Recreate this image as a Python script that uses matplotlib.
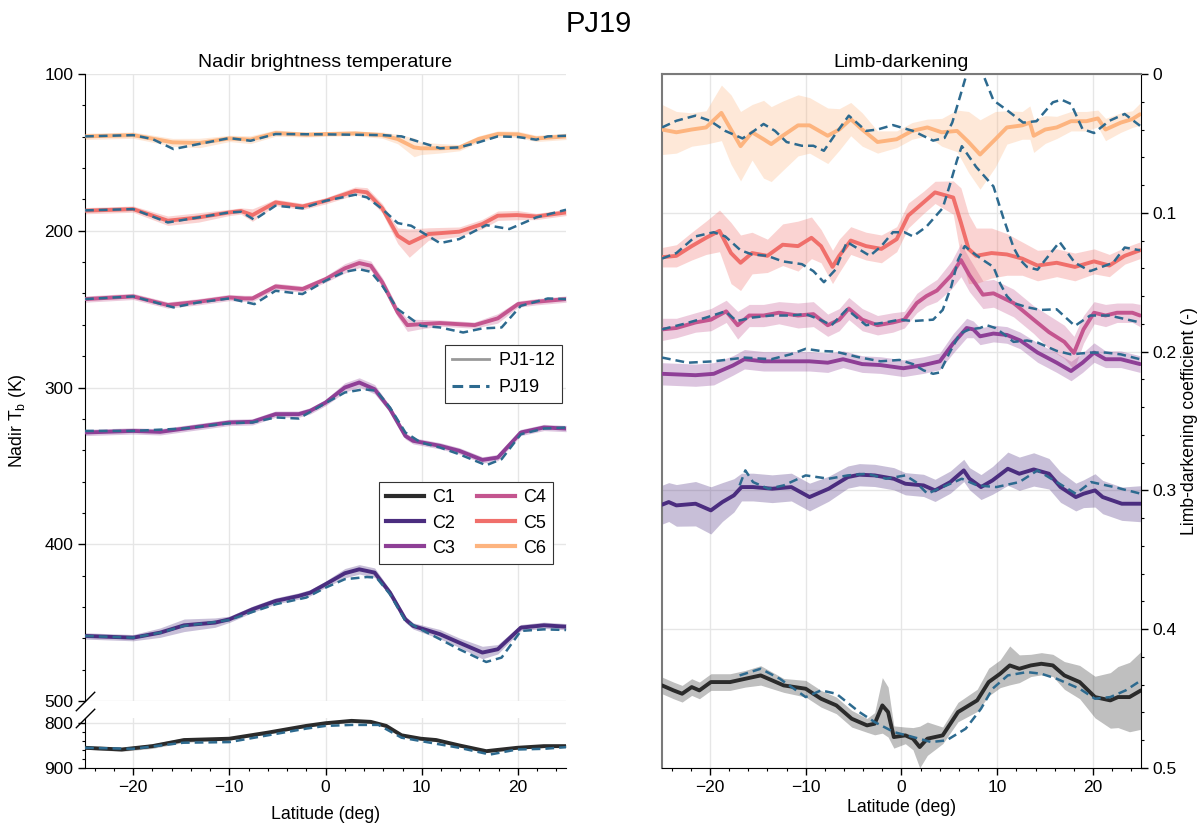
import numpy as np
import matplotlib
matplotlib.use('Agg')
import matplotlib.pyplot as plt
from matplotlib.lines import Line2D
from matplotlib.ticker import MultipleLocator, FuncFormatter

plt.rcParams['font.family'] = ['Liberation Sans', 'DejaVu Sans']
plt.rcParams['mathtext.fontset'] = 'custom'
plt.rcParams['mathtext.rm'] = 'Liberation Sans'
plt.rcParams['mathtext.it'] = 'Liberation Sans:italic'

########################################################################
#
# Nadir brightness temperature (K): PJ1-12 mean +- spread, and PJ19
#
########################################################################

tb_c6_lat = [-25, -20, -15.9, -13.1, -10, -7.8, -5.2, -2, 0, 3.1, 5.9, 7.5, 9.2, 9.9, 11.9, 13.9, 15.9, 17.9, 20, 21.9, 25]
tb_c6 = [139.8, 139.0, 143.6, 144.0, 141.1, 141.9, 137.7, 138.7, 138.3, 137.9, 139.0, 141.5, 146.8, 147.4, 147.4, 147.0, 141.5, 138.3, 138.5, 141.1, 139.8]
tb_c6_err = [2, 2, 2.5, 3, 2, 2.5, 2, 1.5, 1.5, 1.5, 2, 3, 6, 4, 3, 2, 2, 2, 2, 2, 2]
tb19_c6_lat = [-25, -20, -18, -15.8, -13.2, -10, -7.8, -5.2, 0, 5.9, 7.9, 9.9, 11.9, 13.9, 15.9, 17.9, 20, 21.9, 23.1, 25]
tb19_c6 = [139.8, 139.0, 141.5, 147.9, 144.7, 140.9, 142.6, 138.3, 138.5, 139.0, 139.8, 143.6, 147.4, 146.8, 143.6, 139.8, 140.2, 141.9, 139.8, 139.4]

tb_c5_lat = [-25, -20, -16.4, -13.2, -10, -8.8, -7.6, -5.2, -2.4, 0, 3.1, 4.3, 5.9, 7.5, 8.7, 10.7, 13.9, 16.3, 17.9, 19.9, 21.9, 25]
tb_c5 = [187.2, 186.2, 193.6, 191.5, 188.3, 187.4, 190.0, 181.9, 184.5, 180.9, 174.5, 175.5, 185.7, 203.2, 207.9, 202.1, 200.6, 195.7, 190.4, 190.0, 190.9, 188.3]
tb_c5_err = [2, 2, 3, 3, 2, 2, 4, 2, 2, 2, 2.5, 3, 3, 5, 9, 4, 3, 3, 3, 3, 2, 2]
tb19_c5_lat = [-25, -20, -16.4, -13.2, -10, -8.8, -7.4, -5.2, -2.4, 0, 3.1, 4.3, 5.9, 7.5, 8.9, 11.9, 13.9, 16.7, 19.1, 21.9, 25]
tb19_c5 = [187.0, 186.2, 194.7, 191.5, 188.3, 187.9, 193.0, 184.0, 185.7, 180.9, 177.0, 178.7, 186.2, 195.1, 196.8, 207.9, 205.3, 196.4, 198.9, 191.5, 186.6]

tb_c4_lat = [-25, -20, -16.4, -13.2, -10, -8.4, -7.6, -5.2, -2.4, 0, 2, 3.5, 4.7, 5.9, 7.5, 8.5, 9.9, 11.9, 15.5, 17.9, 20, 21.9, 25]
tb_c4 = [243.6, 241.9, 247.4, 245.3, 242.6, 243.2, 243.2, 235.5, 237.2, 230.9, 224.0, 220.6, 222.3, 232.9, 252.1, 260.2, 259.6, 258.9, 260.2, 255.9, 246.8, 245.3, 243.6]
tb_c4_err = [2, 2, 2, 2, 2, 2, 2, 2, 2, 2, 3, 3, 3, 3, 3, 4, 3, 2, 2, 3, 2, 2, 2]
tb19_c4_lat = [-25, -20, -15.8, -13.2, -10, -7.4, -5.2, -2.4, 0, 2, 3.5, 4.7, 5.9, 7.5, 9.9, 11.9, 14.3, 16.3, 18.3, 20.3, 23.1, 25]
tb19_c4 = [243.6, 241.9, 248.9, 245.7, 243.2, 246.8, 238.3, 240.4, 231.9, 226.2, 224.5, 226.2, 235.1, 250.0, 260.6, 261.7, 264.9, 262.3, 261.7, 247.9, 243.2, 243.6]

tb_c3_lat = [-25, -20, -17.2, -14.7, -10, -7.6, -5.2, -2.8, -1.6, 0, 2, 3.5, 5.1, 6.7, 8.3, 9.1, 11.9, 13.9, 16.3, 17.9, 20.3, 22.7, 25]
tb_c3 = [328.7, 327.7, 328.3, 326.2, 322.3, 321.9, 317.0, 317.0, 314.9, 309.6, 300.0, 296.8, 301.1, 313.8, 330.9, 334.0, 337.2, 340.4, 346.2, 344.7, 328.7, 325.5, 326.2]
tb_c3_err = [2, 2, 2, 2, 2, 2, 2, 2, 2, 2, 3, 3, 3, 2, 2, 2, 2, 2, 2, 2, 2, 2, 2]
tb19_c3_lat = [-25, -20, -14.8, -10, -7.6, -5.2, -2.8, 0, 2, 4, 5.3, 6.7, 8.3, 9.9, 11.9, 13.9, 16.7, 18.3, 20.3, 22.7, 25]
tb19_c3 = [327.7, 327.7, 326.2, 322.8, 322.3, 319.1, 319.8, 310.0, 303.2, 301.1, 302.1, 312.8, 328.7, 335.1, 338.3, 342.6, 349.6, 345.7, 329.8, 326.2, 325.5]

tb_c2_lat = [-25, -20, -17.2, -14.7, -11.5, -10, -7.6, -5.2, -2.8, -1.6, 0, 2, 3.5, 5.1, 6.7, 8.3, 9.1, 11.9, 13.9, 16.3, 17.9, 20.3, 22.7, 25]
tb_c2 = [458.5, 459.6, 456.4, 451.7, 450.0, 447.9, 441.5, 436.2, 433.0, 430.9, 425.5, 418.5, 416.0, 418.1, 430.9, 447.9, 452.1, 457.4, 462.8, 469.1, 467.0, 453.2, 451.7, 452.6]
tb_c2_err = [2, 2, 3, 4, 3, 2, 2, 2, 2, 2, 2, 3, 3, 3, 2, 2, 2, 3, 3, 4, 3, 2, 2, 2]
tb19_c2_lat = [-25, -20, -17.2, -14.7, -11.5, -10, -7.6, -5.2, -2, 0, 2, 4.3, 5.3, 6.7, 8.3, 9.9, 11.9, 13.9, 16.7, 18.3, 20.3, 22.7, 25]
tb19_c2 = [458.5, 459.6, 456.4, 452.1, 449.6, 448.3, 443.2, 438.3, 434.0, 427.7, 422.3, 420.9, 421.3, 431.9, 448.9, 454.3, 460.6, 467.0, 475.1, 472.3, 455.3, 454.3, 454.7]

tb_c1_lat = [-25, -21.2, -18, -14.7, -10, -6, -2, 0, 2.7, 4.7, 6.3, 7.9, 9.9, 11.5, 13.9, 16.7, 19.9, 22.7, 25]
tb_c1 = [855.6, 859.3, 851.9, 838.5, 835.6, 822.2, 807.4, 801.5, 796.3, 798.5, 807.4, 828.1, 835.6, 838.5, 850.4, 863.0, 855.6, 851.9, 851.9]
tb_c1_err = [3, 4, 5, 5, 3, 3, 3, 3, 3, 3, 3, 3, 3, 3, 3, 3, 3, 3, 3]
tb19_c1_lat = [-25, -20, -14.8, -10, -6, -2, 0, 2.7, 5.5, 7.9, 9.9, 13.9, 17.1, 19.9, 22.7, 25]
tb19_c1 = [855.6, 857.8, 844.4, 843.0, 828.1, 813.3, 807.4, 805.2, 805.2, 833.3, 840.7, 855.6, 870.4, 859.3, 857.8, 854.1]

########################################################################
#
# Limb-darkening coefficient (-): PJ1-12 mean +- spread, and PJ19
#
########################################################################

ld_c6_lat = [-25.0, -23.5, -21.9, -20.4, -18.8, -17.8, -16.8, -15.6, -14.4, -13.6, -12.4, -10.8, -9.6, -7.7, -6.5, -5.3, -4.1, -2.5, -0.5, 1.1,
             2.7, 4.2, 5.8, 7.0, 8.2, 9.8, 11.0, 12.6, 13.4, 13.8, 15.0, 16.2, 17.7, 19.3, 20.5, 21.3, 22.9, 24.1, 24.9]
ld_c6 = [0.040, 0.042, 0.040, 0.0385, 0.028, 0.040, 0.052, 0.042, 0.047, 0.0505, 0.0445, 0.037, 0.037, 0.0445, 0.040, 0.0325, 0.040, 0.049, 0.047, 0.041,
         0.0385, 0.042, 0.041, 0.049, 0.058, 0.047, 0.0385, 0.037, 0.035, 0.0445, 0.040, 0.0385, 0.034, 0.034, 0.032, 0.040, 0.035, 0.0325, 0.029]
ld_c6_err = [0.018, 0.015, 0.012, 0.012, 0.02, 0.025, 0.025, 0.02, 0.028, 0.027, 0.025, 0.022, 0.02, 0.02, 0.015, 0.012, 0.012, 0.008, 0.006, 0.006,
             0.006, 0.01, 0.015, 0.022, 0.025, 0.02, 0.012, 0.01, 0.012, 0.012, 0.01, 0.008, 0.007, 0.007, 0.006, 0.008, 0.007, 0.006, 0.008]
ld19_c6_lat = [-25.0, -23.5, -21.5, -20.0, -18.4, -16.6, -15.6, -14.4, -13.2, -12.0, -10.4, -9.2, -8.1, -6.9, -5.5, -3.7, -2.5, -0.9, 1.2, 3.3,
               4.5, 5.3, 6.1, 6.8, 7.6, 8.5, 9.6, 11.0, 12.7, 14.1, 14.6, 15.8, 16.7, 17.7, 18.9, 20.1, 21.7, 23.3, 24.9]
ld19_c6 = [0.0385, 0.0337, 0.030, 0.0337, 0.041, 0.0464, 0.042, 0.036, 0.041, 0.049, 0.0517, 0.0517, 0.0553, 0.0433, 0.030, 0.041, 0.040, 0.0368, 0.041, 0.048,
           0.046, 0.035, 0.0165, 0.0, -0.012, 0.0, 0.019, 0.026, 0.035, 0.034, 0.030, 0.0204, 0.0185, 0.0216, 0.0397, 0.0425, 0.0337, 0.0288, 0.0373]

ld_c5_lat = [-25.0, -23.5, -21.9, -20.4, -19.0, -17.8, -16.8, -15.6, -14.0, -12.4, -10.8, -9.4, -8.4, -7.2, -6.5, -5.3, -3.7, -2.1, -0.5, 0.7,
             2.3, 3.5, 5.4, 6.2, 7.0, 7.8, 9.4, 11.0, 12.6, 14.2, 16.2, 18.1, 20.1, 21.7, 23.3, 24.9]
ld_c5 = [0.132, 0.131, 0.124, 0.118, 0.113, 0.129, 0.136, 0.129, 0.131, 0.123, 0.124, 0.118, 0.124, 0.139, 0.131, 0.120, 0.124, 0.126, 0.119, 0.102,
         0.0925, 0.0853, 0.089, 0.107, 0.126, 0.131, 0.129, 0.130, 0.133, 0.138, 0.136, 0.139, 0.135, 0.138, 0.131, 0.127]
ld_c5_err = [0.007, 0.008, 0.010, 0.012, 0.015, 0.022, 0.020, 0.015, 0.012, 0.015, 0.018, 0.015, 0.012, 0.012, 0.012, 0.010, 0.010, 0.010, 0.009, 0.009,
             0.008, 0.008, 0.012, 0.025, 0.025, 0.020, 0.018, 0.015, 0.012, 0.011, 0.010, 0.010, 0.009, 0.008, 0.006, 0.006]
ld19_c5_lat = [-25.0, -23.5, -21.5, -19.6, -18.4, -16.8, -15.6, -14.0, -12.4, -10.4, -9.2, -8.1, -6.9, -5.7, -4.5, -3.3, -2.1, -0.9, 0.3, 1.2,
               2.6, 4.3, 5.0, 5.8, 6.3, 7.8, 9.6, 10.6, 11.7, 12.4, 13.1, 14.2, 16.5, 18.1, 19.7, 22.1, 23.3, 24.9]
ld19_c5 = [0.133, 0.129, 0.117, 0.114, 0.117, 0.127, 0.130, 0.131, 0.135, 0.137, 0.142, 0.150, 0.141, 0.121, 0.126, 0.131, 0.124, 0.114, 0.114, 0.117,
           0.110, 0.0966, 0.081, 0.062, 0.052, 0.067, 0.081, 0.103, 0.125, 0.134, 0.139, 0.141, 0.121, 0.136, 0.142, 0.136, 0.125, 0.127]

ld_c4_lat = [-25.0, -23.5, -21.5, -19.9, -18.3, -17.1, -15.9, -14.4, -12.8, -10.8, -9.2, -7.7, -6.5, -5.5, -4.1, -2.5, -0.9, 0.3, 1.6, 2.6,
             3.7, 5.2, 6.2, 7.1, 8.5, 9.6, 11.7, 13.8, 15.4, 17.0, 18.0, 19.0, 20.1, 21.3, 22.5, 24.1, 24.9]
ld_c4 = [0.184, 0.183, 0.179, 0.177, 0.171, 0.181, 0.174, 0.174, 0.172, 0.174, 0.173, 0.181, 0.177, 0.169, 0.177, 0.181, 0.179, 0.177, 0.165, 0.160,
         0.156, 0.145, 0.134, 0.145, 0.159, 0.158, 0.165, 0.177, 0.186, 0.193, 0.201, 0.184, 0.172, 0.174, 0.172, 0.172, 0.174]
ld_c4_err = [0.008, 0.007, 0.007, 0.008, 0.008, 0.01, 0.008, 0.008, 0.008, 0.009, 0.009, 0.008, 0.008, 0.008, 0.008, 0.007, 0.007, 0.006, 0.007, 0.007,
             0.008, 0.01, 0.012, 0.012, 0.01, 0.01, 0.01, 0.01, 0.012, 0.012, 0.012, 0.01, 0.008, 0.008, 0.007, 0.007, 0.008]
ld19_c4_lat = [-25.0, -22.7, -20.4, -18.4, -17.2, -15.6, -13.6, -11.6, -10.0, -8.5, -7.3, -5.7, -3.7, -1.7, -0.2, 1.2, 3.3, 4.3, 5.2, 5.9,
               6.6, 7.5, 8.5, 9.6, 10.3, 11.0, 11.7, 13.1, 14.5, 16.2, 18.1, 19.7, 21.7, 24.9]
ld19_c4 = [0.184, 0.180, 0.1755, 0.171, 0.178, 0.1755, 0.174, 0.174, 0.173, 0.177, 0.181, 0.1695, 0.181, 0.179, 0.177, 0.178, 0.177, 0.170, 0.153, 0.134,
           0.124, 0.129, 0.134, 0.139, 0.151, 0.160, 0.165, 0.168, 0.170, 0.1695, 0.1815, 0.174, 0.174, 0.179]

ld_c3_lat = [-25.0, -21.5, -19.6, -17.6, -16.4, -14.4, -12.4, -9.6, -7.7, -6.1, -4.1, -2.2, 0.2, 2.3, 4.0, 5.4, 6.8, 7.5, 8.2, 9.6,
             11.0, 12.4, 14.2, 16.2, 17.7, 18.9, 20.1, 21.3, 22.9, 24.9]
ld_c3 = [0.216, 0.217, 0.216, 0.210, 0.2055, 0.207, 0.207, 0.207, 0.208, 0.2055, 0.209, 0.2097, 0.212, 0.2097, 0.207, 0.194, 0.183, 0.184, 0.189, 0.187,
         0.188, 0.192, 0.2007, 0.208, 0.214, 0.208, 0.2007, 0.2055, 0.2055, 0.209]
ld_c3_err = [0.008, 0.008, 0.008, 0.007, 0.007, 0.007, 0.007, 0.007, 0.007, 0.006, 0.006, 0.006, 0.006, 0.006, 0.006, 0.007, 0.007, 0.006, 0.006, 0.006,
             0.006, 0.006, 0.007, 0.007, 0.007, 0.007, 0.007, 0.006, 0.006, 0.006]
ld19_c3_lat = [-25.0, -22.3, -19.6, -16.4, -13.6, -11.6, -10.0, -8.5, -6.9, -4.5, -2.2, -0.2, 1.2, 2.3, 3.3, 4.0, 5.0, 6.1, 7.1, 8.2,
               8.9, 9.8, 10.6, 11.7, 13.1, 14.2, 16.2, 17.7, 19.7, 21.3, 22.9, 24.9]
ld19_c3 = [0.2043, 0.208, 0.207, 0.2043, 0.2055, 0.202, 0.198, 0.1995, 0.200, 0.204, 0.207, 0.206, 0.209, 0.2135, 0.216, 0.215, 0.201, 0.187, 0.184, 0.183,
           0.181, 0.183, 0.187, 0.193, 0.192, 0.1935, 0.1995, 0.202, 0.2007, 0.2007, 0.202, 0.2055]

ld_c2_lat = [-25.0, -24.3, -23.5, -21.5, -19.9, -18.7, -17.5, -16.7, -15.5, -13.5, -11.5, -9.6, -7.6, -5.6, -4.4, -2.8, -0.8, 0.4, 2.3, 3.5,
             5.1, 6.5, 7.1, 8.3, 9.5, 11.1, 12.3, 13.8, 15.4, 16.6, 18.2, 19.0, 20.2, 21.0, 23.0, 25.0]
ld_c2 = [0.3103, 0.3084, 0.3108, 0.3096, 0.3144, 0.3084, 0.3036, 0.2976, 0.2976, 0.2988, 0.2976, 0.3048, 0.2988, 0.2904, 0.2887, 0.2892, 0.2916, 0.2952, 0.2964, 0.3,
         0.294, 0.2856, 0.2916, 0.2976, 0.2928, 0.2844, 0.288, 0.2849, 0.288, 0.2976, 0.3048, 0.3024, 0.3, 0.3048, 0.3096, 0.3096]
ld_c2_err = [0.014, 0.014, 0.015, 0.016, 0.017, 0.014, 0.012, 0.01, 0.01, 0.01, 0.01, 0.01, 0.009, 0.008, 0.008, 0.008, 0.008, 0.008, 0.008, 0.008,
             0.008, 0.008, 0.008, 0.009, 0.01, 0.012, 0.012, 0.012, 0.011, 0.011, 0.01, 0.01, 0.012, 0.012, 0.012, 0.013]
ld19_c2_lat = [-16.9, -16.3, -15.5, -13.9, -12.3, -10.0, -7.6, -5.6, -3.6, -1.6, 0.4, 1.5, 2.7, 4.3, 6.3, 7.9, 9.9, 12.3, 14.2, 16.2,
               18.2, 19.8, 22.2, 25.0]
ld19_c2 = [0.2964, 0.2856, 0.294, 0.2988, 0.2964, 0.2892, 0.2916, 0.2892, 0.288, 0.2916, 0.2892, 0.294, 0.3024, 0.2976, 0.2916, 0.2964, 0.2976, 0.294, 0.2856, 0.294,
           0.3024, 0.294, 0.2976, 0.3024]

ld_c1_lat = [-25.0, -23.8, -22.9, -21.9, -21.1, -19.9, -17.9, -16.3, -14.7, -13.5, -12.3, -10.0, -8.4, -6.8, -5.2, -3.6, -2.8, -2.0, -1.4, -0.8,
             0.4, 1.2, 1.9, 2.7, 4.3, 5.9, 7.9, 9.1, 10.3, 11.3, 12.3, 13.5, 14.6, 15.8, 17.0, 18.6, 20.2, 21.8, 22.6, 23.8, 25.0]
ld_c1 = [0.4405, 0.4441, 0.4465, 0.4417, 0.4441, 0.4381, 0.4381, 0.4357, 0.4333, 0.4369, 0.4405, 0.4429, 0.4501, 0.4549, 0.4645, 0.4693, 0.4681, 0.4549, 0.4597, 0.4777,
         0.4765, 0.4789, 0.4849, 0.4789, 0.4765, 0.4597, 0.4513, 0.4381, 0.4321, 0.4261, 0.4285, 0.4261, 0.4249, 0.4261, 0.4333, 0.4381, 0.4489, 0.4513, 0.4489, 0.4489, 0.4441]
ld_c1_err = [0.006, 0.006, 0.006, 0.006, 0.006, 0.006, 0.006, 0.006, 0.007, 0.006, 0.005, 0.006, 0.006, 0.006, 0.006, 0.005, 0.008, 0.02, 0.018, 0.008,
             0.006, 0.008, 0.015, 0.012, 0.006, 0.007, 0.008, 0.01, 0.01, 0.014, 0.01, 0.008, 0.008, 0.008, 0.01, 0.012, 0.015, 0.02, 0.022, 0.025, 0.028]
ld19_c1_lat = [-16.9, -14.7, -12.7, -10.0, -8.4, -6.8, -4.4, -2.8, -0.8, 1.2, 3.1, 4.7, 6.7, 8.3, 9.5, 11.1, 13.1, 14.6, 16.2, 18.6,
               20.2, 21.8, 23.4, 25.0]
ld19_c1 = [0.4333, 0.4285, 0.4357, 0.4489, 0.4441, 0.4465, 0.4597, 0.4669, 0.4741, 0.4777, 0.4813, 0.4801, 0.4717, 0.4573, 0.4429, 0.4333, 0.4309, 0.4321, 0.4357, 0.4429,
           0.4501, 0.4489, 0.4441, 0.4369]

channels = ['C1', 'C2', 'C3', 'C4', 'C5', 'C6']
channel_colors = ['#2b2b2b', '#4b2d7f', '#8e3f96', '#c4558f', '#f06f6b', '#fdb47f']
pj19_color = '#2d6a8f'

tb_mean = [(tb_c1_lat, tb_c1, tb_c1_err), (tb_c2_lat, tb_c2, tb_c2_err), (tb_c3_lat, tb_c3, tb_c3_err),
           (tb_c4_lat, tb_c4, tb_c4_err), (tb_c5_lat, tb_c5, tb_c5_err), (tb_c6_lat, tb_c6, tb_c6_err)]
tb_pj19 = [(tb19_c1_lat, tb19_c1), (tb19_c2_lat, tb19_c2), (tb19_c3_lat, tb19_c3),
           (tb19_c4_lat, tb19_c4), (tb19_c5_lat, tb19_c5), (tb19_c6_lat, tb19_c6)]
ld_mean = [(ld_c1_lat, ld_c1, ld_c1_err), (ld_c2_lat, ld_c2, ld_c2_err), (ld_c3_lat, ld_c3, ld_c3_err),
           (ld_c4_lat, ld_c4, ld_c4_err), (ld_c5_lat, ld_c5, ld_c5_err), (ld_c6_lat, ld_c6, ld_c6_err)]
ld_pj19 = [(ld19_c1_lat, ld19_c1), (ld19_c2_lat, ld19_c2), (ld19_c3_lat, ld19_c3),
           (ld19_c4_lat, ld19_c4), (ld19_c5_lat, ld19_c5), (ld19_c6_lat, ld19_c6)]


def draw_channel(ax, mean, pj19, color):
    lat, val, err = (np.asarray(a, dtype=float) for a in mean)
    ax.fill_between(lat, val - err, val + err, color=color, alpha=0.3, lw=0, zorder=2)
    ax.plot(lat, val, color=color, lw=2.8, zorder=3,
            solid_capstyle='round', solid_joinstyle='round')
    ax.plot(pj19[0], pj19[1], color=pj19_color, lw=1.8, dashes=(3.5, 2.0),
            dash_joinstyle='round', zorder=4)


def style_axis(ax):
    ax.set_xlim(-25, 25)
    ax.xaxis.set_major_locator(MultipleLocator(10))
    ax.xaxis.set_minor_locator(MultipleLocator(2))
    ax.grid(True, which='major', color='#e6e6e6', lw=1.0, zorder=0)
    ax.tick_params(which='major', direction='out', length=5, width=1, labelsize=12.5)
    ax.tick_params(which='minor', direction='out', length=2.5, width=0.8)
    ax.set_axisbelow(True)


fig = plt.figure(figsize=(11.98, 8.25), dpi=100)

# left: broken y axis for the nadir brightness temperature
ax_top = fig.add_axes([0.0710, 0.1503, 0.4015, 0.7600])
ax_bot = fig.add_axes([0.0710, 0.0691, 0.4015, 0.0606])
# right: limb-darkening coefficient
ax_ld = fig.add_axes([0.5526, 0.0691, 0.3998, 0.8412])

for i in range(6):
    target = ax_bot if i == 0 else ax_top
    draw_channel(target, tb_mean[i], tb_pj19[i], channel_colors[i])
    draw_channel(ax_ld, ld_mean[i], ld_pj19[i], channel_colors[i])

for ax in (ax_top, ax_bot, ax_ld):
    style_axis(ax)

ax_top.set_ylim(500, 100)
ax_top.yaxis.set_major_locator(MultipleLocator(100))
ax_top.yaxis.set_minor_locator(MultipleLocator(20))
ax_top.tick_params(axis='x', which='both', bottom=False, labelbottom=False)
ax_top.spines[['top', 'right', 'bottom']].set_visible(False)
ax_top.set_title('Nadir brightness temperature', fontsize=14, pad=5)

ax_bot.set_ylim(900, 790)
ax_bot.yaxis.set_major_locator(MultipleLocator(100))
ax_bot.yaxis.set_minor_locator(MultipleLocator(20))
ax_bot.spines[['top', 'right']].set_visible(False)
ax_bot.set_xlabel('Latitude (deg)', fontsize=12.7, labelpad=8)

# diagonal break marks on the left spine
d = 1.0
brk = dict(marker=[(-1, -d), (1, d)], markersize=14, linestyle='none',
           color='k', mec='k', mew=1, clip_on=False)
ax_top.plot([0], [0], transform=ax_top.transAxes, **brk)
ax_bot.plot([0], [1], transform=ax_bot.transAxes, **brk)

fig.text(0.015, 0.49, 'Nadir T$_\\mathrm{b}$ (K)', rotation=90, fontsize=12.7,
         ha='center', va='center')

ax_ld.set_ylim(0.5, 0)
ax_ld.yaxis.set_major_locator(MultipleLocator(0.1))
ax_ld.yaxis.set_minor_locator(MultipleLocator(0.02))
ax_ld.yaxis.set_major_formatter(FuncFormatter(lambda v, p: f'{v:g}'))
ax_ld.yaxis.tick_right()
ax_ld.yaxis.set_label_position('right')
ax_ld.set_ylabel('Limb-darkening coefficient (-)', fontsize=12.7, labelpad=3)
ax_ld.set_xlabel('Latitude (deg)', fontsize=12.7, labelpad=3)
ax_ld.set_title('Limb-darkening', fontsize=14, pad=5)
for side in ('left', 'top'):
    ax_ld.spines[side].set_color('#7a7a7a')
    ax_ld.spines[side].set_linewidth(1.5)

# legends
pj_handles = [Line2D([], [], color='#999999', lw=2),
              Line2D([], [], color=pj19_color, lw=2.2, dashes=(3.5, 2.0))]
leg1 = ax_top.legend(pj_handles, ['PJ1-12', 'PJ19'], loc='upper right',
                     bbox_to_anchor=(0.992, 0.568), borderaxespad=0, fontsize=13,
                     frameon=True, fancybox=False, edgecolor='#333333', framealpha=1,
                     handlelength=2.05, handletextpad=0.5, labelspacing=0.55)
leg1.get_frame().set_linewidth(0.8)
ax_top.add_artist(leg1)

ch_handles = [Line2D([], [], color=c, lw=3) for c in channel_colors]
leg2 = ax_top.legend(ch_handles, channels, loc='upper right', ncol=2,
                     bbox_to_anchor=(0.973, 0.349), borderaxespad=0, fontsize=13,
                     frameon=True, fancybox=False, edgecolor='#333333', framealpha=1,
                     handlelength=2.1, handletextpad=0.45, columnspacing=1.2,
                     labelspacing=0.45)
leg2.get_frame().set_linewidth(0.8)

fig.suptitle('PJ19', fontsize=21, y=0.988)

plt.savefig('out.png', dpi=100)
